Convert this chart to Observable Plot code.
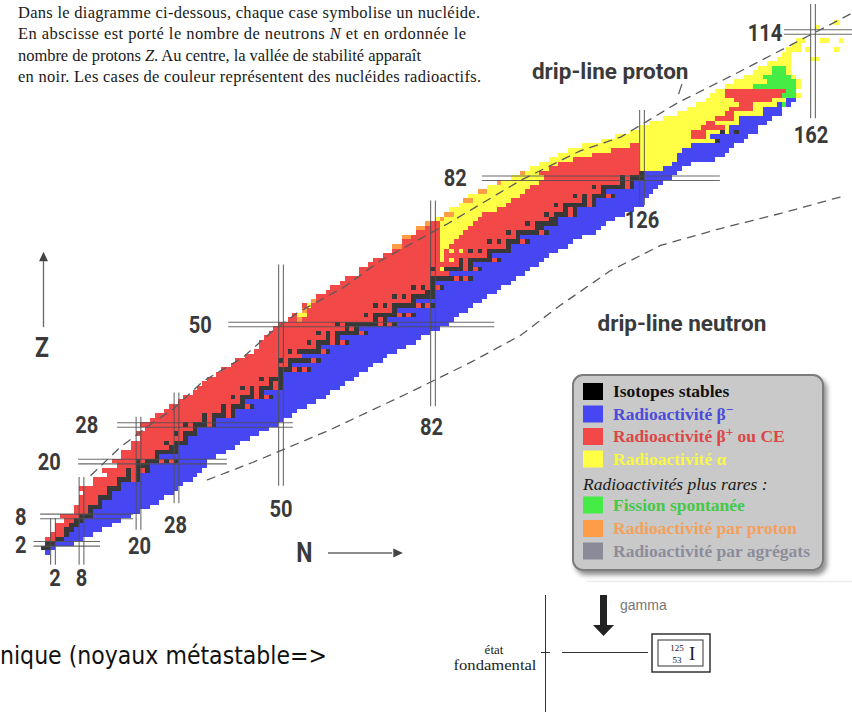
<!DOCTYPE html>
<html><head><meta charset="utf-8">
<script src="https://cdn.jsdelivr.net/npm/d3@7"></script>
<script src="https://cdn.jsdelivr.net/npm/@observablehq/plot@0.6"></script>
<style>
body{margin:0;background:#fff;}
#wrap{position:relative;width:852px;height:712px;overflow:hidden;background:#fff;}
#chart{position:absolute;left:0;top:0;}
#chart svg rect{shape-rendering:crispEdges;}
#over{position:absolute;left:0;top:0;pointer-events:none;}
</style></head><body>
<div id="wrap"><div id="chart"></div>
<svg id="over" width="852" height="712" xmlns="http://www.w3.org/2000/svg">
<defs><filter id="sh" x="-10%" y="-10%" width="130%" height="130%"><feDropShadow dx="3" dy="4" stdDeviation="2.5" flood-color="#000" flood-opacity="0.45"/></filter></defs>
<g font-family="Liberation Serif, Times New Roman, serif" font-size="16.5" fill="#1a1a1a">
<text x="18" y="17.5" textLength="462" lengthAdjust="spacing">Dans le diagramme ci-dessous, chaque case symbolise un nucléide.</text>
<text x="18" y="39" textLength="448" lengthAdjust="spacing">En abscisse est porté le nombre de neutrons <tspan font-style="italic">N</tspan> et en ordonnée le</text>
<text x="18" y="60.5" textLength="403" lengthAdjust="spacing">nombre de protons <tspan font-style="italic">Z</tspan>. Au centre, la vallée de stabilité apparaît</text>
<text x="18" y="82" textLength="463" lengthAdjust="spacing">en noir. Les cases de couleur représentent des nucléides radioactifs.</text>
</g>
<g id="legend"></g>
<line x1="587" y1="581.5" x2="852" y2="581.5" stroke="#ececec" stroke-width="1.5"/>
<text x="0" y="664" font-family="DejaVu Sans Condensed, DejaVu Sans, sans-serif" font-size="25" fill="#111" textLength="327" lengthAdjust="spacingAndGlyphs">nique (noyaux métastable=&gt;</text>
<g stroke="#333" stroke-width="1" fill="none">
<line x1="545.5" y1="595" x2="545.5" y2="712"/>
<line x1="541" y1="652.5" x2="550" y2="652.5"/>
<line x1="562" y1="652.5" x2="648" y2="652.5"/>
<rect x="652" y="634" width="58" height="38" stroke-width="1.5"/>
<rect x="658" y="640" width="45" height="26"/>
</g>
<g font-family="Liberation Serif, Times New Roman, serif" fill="#222">
<text x="494" y="654" font-size="13" text-anchor="middle">état</text>
<text x="495" y="670" font-size="15" text-anchor="middle" textLength="83" lengthAdjust="spacingAndGlyphs">fondamental</text>
<text x="677" y="651" font-size="9" text-anchor="middle">125</text>
<text x="677" y="663" font-size="9" text-anchor="middle">53</text>
<text x="689" y="660" font-size="19">I</text>
</g>
<rect x="600" y="595" width="7" height="31" fill="#222"/>
<path d="M593,625 L614,625 L603.5,636 Z" fill="#222"/>
<text x="620" y="610" font-family="Liberation Sans, Arial, sans-serif" font-size="14" fill="#777">gamma</text>
</svg>
</div>
<script>
// ---------- DATA ----------
// lightest and heaviest neutron number shown for each Z (index = Z, 0..112)
const nMin = [1,0,1,1,2,3,3,5,4,7,
 7,8,8,9,8,11,11,14,13,16,
 15,17,17,19,19,21,20,22,21,23,
 24,26,27,29,30,32,33,34,35,37,
 38,40,41,43,45,46,46,47,48,49,
 50,52,53,55,55,57,58,60,61,63,
 64,67,67,69,70,72,74,75,76,77,
 79,80,82,83,85,86,88,89,90,92,
 94,97,99,101,103,105,107,109,111,114,
 118,121,124,126,128,131,134,136,138,140,
 141,142,144,146,148,150,151,153,155,156,
 157,158,159];
const nMax = [1,2,6,8,10,12,14,16,18,20,
 22,24,25,27,28,29,31,32,33,34,
 34,36,38,40,41,43,45,47,49,50,
 52,53,55,57,59,60,62,63,65,66,
 68,69,71,72,74,76,78,79,81,83,
 85,86,87,89,90,92,93,95,96,98,
 99,101,102,104,105,106,108,110,111,113,
 116,117,118,120,122,124,126,126,127,128,
 129,130,132,133,134,136,141,143,144,145,
 147,148,150,150,152,153,155,155,157,158,
 159,158,159,159,158,157,157,157,157,157,
 159,159,160];
// first neutron number of the beta-minus side (999 = none)
const betaMinusFrom = [1,2,3,5,6,7,8,9,11,11,
 13,13,15,15,17,17,21,21,23,23,
 29,25,29,29,31,31,33,33,37,37,
 41,41,45,43,49,47,51,51,51,51,
 57,53,59,55,61,59,65,63,69,67,
 75,73,79,75,83,79,83,83,85,83,
 91,86,93,91,97,95,99,99,103,101,
 107,106,109,109,113,113,117,117,121,119,
 125,125,127,127,131,133,134,134,135,137,
 143,141,145,145,147,147,152,152,155,157,
 999,999,999,999,999,999,999,999,999,999,
 999,999,999];
// stable isotopes (neutron numbers) for each Z
const stableN = [
 [],[0,1],[1,2],[3,4],[5],[5,6],[6,7],[7,8],[8,9,10],[10],
 [10,11,12],[12],[12,13,14],[14],[14,15,16],[16],[16,17,18,20],[18,20],[18,20,22],[20,21,22],
 [20,22,23,24,26,28],[24],[24,25,26,27,28],[27,28],[26,28,29,30],[30],[28,30,31,32],[32],[30,32,33,34,36],[34,36],
 [34,36,37,38,40],[38,40],[38,40,41,42,44],[42],[40,42,43,44,46,48],[44,46],[42,44,46,47,48,50],[48,50],[46,48,49,50],[50],
 [50,51,52,54,56],[52],[50,52,53,54,55,56,58],[],[52,54,55,56,57,58,60],[58],[56,58,59,60,62,64],[60,62],[58,60,62,63,64,65,66,68],[64,66],
 [62,64,65,66,67,68,69,70,72,74],[70,72],[68,70,71,72,73,74,76,78],[74],[70,72,74,75,76,77,78,80,82],[78],[74,76,78,79,80,81,82],[81,82],[78,80,82,84],[82],
 [82,83,84,85,86,88,90],[],[82,85,86,87,88,90,92],[88,90],[88,90,91,92,93,94,96],[94],[90,92,94,95,96,97,98],[98],[94,96,98,99,100,102],[100],
 [98,100,101,102,103,104,106],[104,105],[102,104,105,106,107,108],[107,108],[106,108,109,110,112],[110,112],[108,110,111,112,113,114,116],[114,116],[112,114,116,117,118,120],[118],
 [116,118,119,120,121,122,124],[122,124],[122,124,125,126],[126],[],[],[],[],[],[],
 [142],[],[143,146]];
// alpha bands [Z, N from, N to]
const alphaBands = [[67,84,85],[68,84,86],[69,84,87],[70,84,88],[71,84,89],[72,84,90],[73,83,91],[74,85,92],
 [75,86,95],[76,88,97],[77,89,98],[78,90,100],[79,92,101],[80,94,102],[81,97,104],[82,99,105],
 [83,101,104],[84,103,106],[85,105,108],[86,107,111],[87,109,115],[88,111,119],[89,114,123],
 [90,118,139],[91,121,136],[92,124,136],[93,126,138],[94,128,139],[95,131,141],[96,134,143],
 [97,136,144],[98,138,146],[99,140,145],[100,141,143],[101,142,143],[102,144,151],[103,146,152],
 [104,148,151],[105,150,153],[106,151,153],[107,153,157],[108,155,157],[109,156,157],[110,157,159],
 [111,158,159],[112,159,160]];
// heavy nuclei: last N of the beta+/EC band after the first alpha band [Z, N]
const heavyRedTo = [[83,125],[84,125],[85,125],[86,125],[87,125],[88,125],[89,125],[90,139],[91,139],
 [92,139],[93,143],[94,141],[95,145],[96,145],[97,149],[98,149],[99,153],[100,155],[101,156],
 [102,151],[103,152],[104,151],[105,153],[106,153],[107,157],[108,157],[109,157],[110,159],[111,159],[112,160]];
// spontaneous fission bands [Z, N from, N to]
const fissionBands = [[98,156,156],[100,156,158],[101,157,158],[102,150,158],[103,153,158],[104,152,157],[105,154,156],[106,154,156]];
// isolated alpha emitters [N, Z]
const extraAlpha = [[84,62],[84,64],[86,64],[84,65],[84,66],[86,66],[88,66],[54,52],[55,52],[56,54],
 [161,110],[162,108],[163,108],[164,112],[165,112],[167,110],[168,112],[163,115],[167,116]];
// proton emitters [N, Z]
const protonEmitters = [[54,51],[55,53],[57,55],[74,67],[75,67],[76,69],[77,69],[79,71],[80,71],[81,72],
 [84,73],[85,74],[86,74],[89,77],[90,77],[92,79],[93,79],[96,81],[101,83]];
// magic numbers: vertical (N) and horizontal (Z) double lines with their extent
const magicN = [2,8,20,28,50,82,126,162];
const magicNZfrom = [-2.7,-2.7,5,10.8,14.6,32,76,95];
const magicNZto = [7.5,16.5,29.7,35,63,77,96.8,120];
const magicZ = [2,8,20,28,50,82,114];
const magicZNfrom = [-2,-0.6,7.4,15.6,39,92.4,156];
const magicZNto = [12,19,38.7,52.6,95,142.5,171];
// drip lines [N, Z]
const protonDrip = [[10,17],[16,23],[23,28.5],[27.2,31.4],[33.5,37.5],[42,42.8],[47.8,48.2],[53.5,52.6],[63,58],[71,64],
 [85,72],[100.4,81.5],[113,88],[121.5,91],[133.5,98.5],[145,104.5],[158,111.5],[170,118]];
const neutronDrip = [[34.5,16],[44,19.8],[60,26.8],[76.6,34.9],[89.9,41.7],[100.4,47.6],[108.8,54.2],[119.4,61.8],
 [129.9,67.3],[142.5,71],[155.2,74.3],[168.8,78.2]];
// legend
const legendKinds = ["stable","betaMinus","betaPlus","alpha","fission","proton","cluster"];
const legendColors = ["#383838","#4646f2","#f24848","#ffff46","#46ec46","#ff9c46","#8a8a98"];
const legendLabels = ["Isotopes stables","Radioactivité β|−","Radioactivité β|+| ou CE","Radioactivité α",
 "Fission spontanée","Radioactivité par proton","Radioactivité par agrégats"];
const legendTextColors = ["#111","#4b4bdc","#dc4646","#f8f846","#46c846","#f5a05a","#8c8c9b"];
const legendSwatch = ["#000","#4646f2","#f24848","#ffff46","#46ec46","#ff9c46","#8a8a98"];
const rareTitle = "Radioactivités plus rares :";

// ---------- build cell table ----------
const cells = [];
nMin.forEach((lo, z) => {
  const st = stableN[z] || [];
  const a = alphaBands.find(d => d[0] === z);
  const g = fissionBands.find(d => d[0] === z);
  const r = heavyRedTo.find(d => d[0] === z);
  for (let n = lo; n <= nMax[z]; n++) {
    let k;
    if (st.includes(n)) k = "stable";
    else if (g && n >= g[1] && n <= g[2]) k = "fission";
    else if (a && n >= a[1] && n <= a[2]) k = "alpha";
    else if (n >= betaMinusFrom[z]) k = "betaMinus";
    else if (r && n > r[1]) k = "alpha";
    else k = "betaPlus";
    cells.push({n, z, k});
  }
});
extraAlpha.forEach(([n, z]) => cells.push({n, z, k: "alpha"}));
protonEmitters.forEach(([n, z]) => cells.push({n, z, k: "proton"}));

const vLines = magicN.flatMap((n, i) => [-0.5, 0.5].map(o => ({x: n + o, y1: magicNZfrom[i], y2: magicNZto[i]})));
const hLines = magicZ.flatMap((z, i) => [-0.5, 0.5].map(o => ({y: z + o, x1: magicZNfrom[i], x2: magicZNto[i]})));

// label placement (data units)
const nLabels = [{t:"2",n:2.4,z:-5.4},{t:"8",n:8,z:-5.4},{t:"20",n:20.2,z:1.6},{t:"28",n:27.8,z:6},{t:"50",n:50,z:9.5},
 {t:"82",n:81.7,z:27.5},{t:"126",n:126,z:72.8},{t:"162",n:161.6,z:91.5}];
const zLabels = [{t:"2",n:-4.8,z:1.8},{t:"8",n:-4.8,z:7.8},{t:"20",n:1.2,z:19.8},{t:"28",n:9.1,z:28},{t:"50",n:33,z:49.8},
 {t:"82",n:86.7,z:82.1},{t:"114",n:151.9,z:113.8}];
const axisLetters = [{t: "Z", n: -0.3, z: 44.8}, {t: "N", n: 54.9, z: 0}];
const bigFont = "Roboto, 'DejaVu Sans', sans-serif";

const upTri = {draw(ctx, size){const r = Math.sqrt(size) * 0.75; ctx.moveTo(0,-r); ctx.lineTo(r*0.75, r*0.6); ctx.lineTo(-r*0.75, r*0.6); ctx.closePath();}};
const rightTri = {draw(ctx, size){const r = Math.sqrt(size) * 0.75; ctx.moveTo(r,0); ctx.lineTo(-r*0.6, r*0.75); ctx.lineTo(-r*0.6, -r*0.75); ctx.closePath();}};

const chart = Plot.plot({
  width: 852, height: 712, margin: 0,
  style: {background: "transparent", overflow: "visible"},
  x: {domain: [0, 162], range: [43, 812.5], axis: null},
  y: {domain: [0, 114], range: [552.5, 31.5], axis: null},
  color: {domain: legendKinds, range: legendColors},
  marks: [
    Plot.rect(cells, {x1: d => d.n - 0.5, x2: d => d.n + 0.5, y1: d => d.z - 0.5, y2: d => d.z + 0.5, fill: "k"}),
    Plot.ruleX(vLines, {x: "x", y1: "y1", y2: "y2", stroke: "#505050", strokeWidth: 1.1, strokeOpacity: 0.85}),
    Plot.ruleY(hLines, {y: "y", x1: "x1", x2: "x2", stroke: "#505050", strokeWidth: 1.1, strokeOpacity: 0.85}),
    Plot.line(protonDrip, {x: d => d[0], y: d => d[1], stroke: "#5a5a5a", strokeWidth: 1.3, strokeDasharray: "8,7"}),
    Plot.line(neutronDrip, {x: d => d[0], y: d => d[1], stroke: "#5a5a5a", strokeWidth: 1.3, strokeDasharray: "8,7"}),
    Plot.link([[133.7, 100.4, 134.4, 102.6]], {x1: d => d[0], y1: d => d[1], x2: d => d[2], y2: d => d[3], stroke: "#555", strokeWidth: 1.2}),
    Plot.text(nLabels, {x: "n", y: "z", text: "t", fontSize: 24.5, fontWeight: "bold", fontFamily: bigFont, fill: "#3a3a3a"}),
    Plot.text(zLabels, {x: "n", y: "z", text: "t", fontSize: 24.5, fontWeight: "bold", fontFamily: bigFont, fill: "#3a3a3a"}),
    Plot.text([{t: "drip-line proton", n: 119.3, z: 105.4}, {t: "drip-line neutron", n: 134.4, z: 50.2}],
      {x: "n", y: "z", text: "t", fontSize: 22.5, fontWeight: "bold", fontFamily: bigFont, fill: "#3a3a3a"}),
    Plot.text(axisLetters, {x: "n", y: "z", text: "t", fontSize: 28, fontWeight: "bold", fontFamily: bigFont, fill: "#3a3a3a"}),
    Plot.ruleX([0], {y1: 49.3, y2: 64, stroke: "#666", strokeWidth: 1.3}),
    Plot.ruleY([0], {x1: 60, x2: 73.5, stroke: "#666", strokeWidth: 1.3}),
    Plot.dot([{n: 0, z: 64.6}], {x: "n", y: "z", symbol: upTri, r: 4.5, fill: "#444", stroke: "none"}),
    Plot.dot([{n: 74.4, z: 0}], {x: "n", y: "z", symbol: rightTri, r: 4.5, fill: "#444", stroke: "none"})
  ]
});
document.getElementById("chart").appendChild(chart);

// narrow the bold magic-number digits (condensed look of the original)
const narrowSet = new Set([...nLabels, ...zLabels, ...axisLetters].map(d => d.t));
chart.querySelectorAll("text").forEach(el => {
  if (!narrowSet.has(el.textContent.trim())) return;
  const tr = el.getAttribute("transform");
  if (tr) el.setAttribute("transform", tr + " scale(0.82,1)");
  else {
    const x = +el.getAttribute("x") || 0, y = +el.getAttribute("y") || 0;
    el.removeAttribute("x"); el.removeAttribute("y");
    el.setAttribute("transform", `translate(${x},${y}) scale(0.82,1)`);
  }
});

// ---------- legend ----------
const lg = d3.select("#legend");
lg.append("rect").attr("x", 573).attr("y", 375).attr("width", 250).attr("height", 195).attr("rx", 10)
  .attr("fill", "#c9c9c9").attr("stroke", "#7c7c7c").attr("stroke-width", 2).attr("filter", "url(#sh)");
const rowY = [391.5, 414, 436.5, 459, 505, 528.5, 551];
legendLabels.forEach((lab, i) => {
  lg.append("rect").attr("x", 583).attr("y", rowY[i] - 8.5).attr("width", 20).attr("height", 17).attr("fill", legendSwatch[i]);
  const t = lg.append("text").attr("x", 613).attr("y", rowY[i] + 5.5)
    .attr("font-family", "Liberation Serif, Times New Roman, serif").attr("font-weight", "bold")
    .attr("font-size", 17.5).attr("fill", legendTextColors[i]);
  const parts = lab.split("|");
  parts.forEach((p, j) => {
    const sp = t.append("tspan").text(p);
    if (j === 1) sp.attr("dy", -6).attr("font-size", 13);
    if (j === 2) sp.attr("dy", 6);
  });
});
lg.append("text").attr("x", 583).attr("y", 489.5).attr("font-family", "Liberation Serif, Times New Roman, serif")
  .attr("font-style", "italic").attr("font-size", 17.5).attr("fill", "#1a1a1a").text(rareTitle);
</script>
</body></html>
